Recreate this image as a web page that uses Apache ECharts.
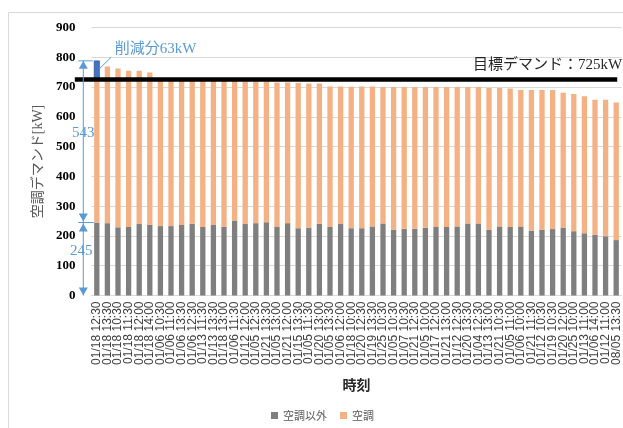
<!DOCTYPE html>
<html>
<head>
<meta charset="utf-8">
<script src="https://cdn.jsdelivr.net/npm/echarts@6/dist/echarts.min.js"></script>
<style>
  html, body { margin: 0; padding: 0; background: #fff; }
  #chart { width: 623px; height: 428px; }
</style>
</head>
<body>
<div id="chart"></div>
<script>
// Sampled time slots, sorted by total demand (highest first)
const timeLabels = [
  '01/18 12:30','01/18 13:30','01/18 10:30','01/18 11:30','01/18 12:00','01/18 14:00',
  '01/06 10:30','01/06 11:00','01/06 13:30','01/06 12:30','01/13 11:30','01/13 13:30',
  '01/18 13:00','01/06 11:30','01/12 12:00','01/05 12:30','01/21 13:30','01/05 13:00',
  '01/21 12:00','01/15 13:30','01/05 11:30','01/20 13:00','01/05 13:30','01/06 12:00',
  '01/18 10:00','01/20 12:30','01/19 13:30','01/25 10:30','01/05 10:30','01/07 10:30',
  '01/21 12:30','01/05 10:00','01/17 12:00','01/21 13:00','01/12 12:30','01/20 13:30',
  '01/04 12:30','01/13 13:00','01/21 10:30','01/05 11:00','01/06 10:00','01/21 11:30',
  '01/12 10:30','01/19 10:30','01/20 12:00','01/25 10:00','01/13 11:00','01/06 14:00',
  '01/12 11:00','08/05 13:30'
];

// Demand other than air conditioning [kW]
const nonAcDemand = [
  245, 243, 229, 230, 240, 238, 233, 233, 237, 241, 230, 237,
  231, 252, 240, 243, 246, 230, 243, 226, 228, 241, 230, 240,
  226, 226, 232, 242, 221, 224, 224, 228, 230, 230, 232, 242,
  242, 221, 232, 230, 232, 218, 221, 223, 228, 216, 209, 204,
  199, 186
];

// Air-conditioning demand [kW]
const acDemand = [
  543, 526, 533, 525, 515, 511, 497, 496, 491, 487, 497, 490,
  495, 474, 479, 476, 473, 485, 472, 488, 484, 471, 472, 462,
  475, 476, 470, 458, 479, 476, 476, 472, 470, 470, 468, 458,
  458, 476, 465, 465, 458, 472, 469, 467, 453, 461, 460, 453,
  458, 462
];

// Target demand [kW]
const targetDemand = 725;

const yTicks = { min: 0, max: 900, interval: 100 };

const COL_GRAY = '#7f7f7f';
const COL_ORANGE = '#f4b183';
const COL_BLUE_TEXT = '#5b9bd5';
const COL_BLUE_BAR = '#4472c4';
const SERIF = '"Liberation Serif", "Noto Sans CJK JP", serif';

const peakTotal = nonAcDemand[0] + acDemand[0];
const reduction = peakTotal - targetDemand;

// Annotations: target line, reduction block on the peak bar and dimension arrows
function renderNotes(params, api) {
  const n = timeLabels.length;
  const x0 = api.coord([0, 0])[0];
  const xN = api.coord([n - 1, 0])[0];
  const band = api.size([1, 0])[0];
  const bw = band * 0.5;
  const yBase = api.coord([0, 0])[1];
  const yMid = api.coord([0, nonAcDemand[0]])[1];
  const yTop = api.coord([0, peakTotal])[1];
  const yTarget = api.coord([0, targetDemand])[1];
  const xA = x0 - 13.5;
  const blue = COL_BLUE_TEXT;
  const thin = { stroke: blue, lineWidth: 1 };
  const head = 4.5, headH = 8;

  const children = [
    // portion of the peak above the target
    { type: 'rect', shape: { x: x0 - bw / 2, y: yTop, width: bw, height: yTarget - yTop },
      style: { fill: COL_BLUE_BAR, stroke: '#2f5597', lineWidth: 0.6 } },
    // target demand line
    { type: 'line', shape: { x1: x0 - 22, y1: yTarget, x2: xN + 1, y2: yTarget },
      style: { stroke: '#000', lineWidth: 4.5 } },
    { type: 'text', style: { text: '目標デマンド：' + targetDemand + 'kW', x: xN + 6, y: yTarget - 15,
      align: 'right', verticalAlign: 'middle', fontSize: 15, fontFamily: SERIF, fill: '#262626' } },
    // reduction callout
    { type: 'line', shape: { x1: x0 + 2.6, y1: yTop + 8, x2: x0 + 14.3, y2: yTop - 3.6 }, style: thin },
    { type: 'text', style: { text: '削減分' + reduction + 'kW', x: x0 + 18, y: yTop - 12,
      align: 'left', verticalAlign: 'middle', fontSize: 15, fontFamily: SERIF, fill: blue } },
    // extension ticks
    { type: 'line', shape: { x1: xA - 5, y1: yTop, x2: x0 - 4, y2: yTop }, style: thin },
    { type: 'line', shape: { x1: xA - 5, y1: yMid, x2: x0 - 3, y2: yMid }, style: thin },
    // vertical dimension lines
    { type: 'line', shape: { x1: xA, y1: yTop, x2: xA, y2: yMid }, style: thin },
    { type: 'line', shape: { x1: xA, y1: yMid, x2: xA, y2: yBase }, style: thin },
    // arrow heads
    { type: 'polygon', shape: { points: [[xA, yTop], [xA - head, yTop + headH], [xA + head, yTop + headH]] }, style: { fill: blue } },
    { type: 'polygon', shape: { points: [[xA, yMid - 1], [xA - head, yMid - 1 - headH], [xA + head, yMid - 1 - headH]] }, style: { fill: blue } },
    { type: 'polygon', shape: { points: [[xA, yMid + 1], [xA - head, yMid + 1 + headH], [xA + head, yMid + 1 + headH]] }, style: { fill: blue } },
    { type: 'polygon', shape: { points: [[xA, yBase], [xA - head, yBase - headH], [xA + head, yBase - headH]] }, style: { fill: blue } },
    // dimension values
    { type: 'text', style: { text: String(acDemand[0]), x: xA, y: (yTop + yMid) / 2 - 9,
      align: 'center', verticalAlign: 'middle', fontSize: 15, fontFamily: SERIF, fill: blue } },
    { type: 'text', style: { text: String(nonAcDemand[0]), x: xA - 2, y: (yMid + yBase) / 2 - 8,
      align: 'center', verticalAlign: 'middle', fontSize: 15, fontFamily: SERIF, fill: blue } }
  ];
  return { type: 'group', children: children };
}

const chart = echarts.init(document.getElementById('chart'), null, { renderer: 'canvas' });

chart.setOption({
  animation: false,
  backgroundColor: '#fff',
  graphic: [{
    type: 'rect', silent: true, z: -10,
    shape: { x: 8.5, y: 12.5, width: 700, height: 500 },
    style: { fill: 'none', stroke: '#d9d9d9', lineWidth: 1 }
  }],
  grid: { left: 91.5, right: 1.5, top: 27.5, bottom: 132.5 },
  legend: {
    data: ['空調以外', '空調'],
    left: 266, top: 405,
    icon: 'rect', itemWidth: 7, itemHeight: 7, itemGap: 13,
    textStyle: { fontSize: 11, color: '#595959', fontFamily: '"Noto Sans CJK JP", sans-serif' }
  },
  xAxis: {
    type: 'category',
    data: timeLabels,
    name: '時刻',
    nameLocation: 'middle',
    nameGap: 82,
    nameTextStyle: { fontSize: 14, fontWeight: 'bold', color: '#262626', fontFamily: '"Noto Sans CJK JP", sans-serif' },
    axisLine: { lineStyle: { color: '#d9d9d9' } },
    axisTick: { show: false },
    axisLabel: {
      interval: 0, rotate: 90, margin: 6,
      fontSize: 12, color: '#404040', fontFamily: '"Liberation Sans", Arial, sans-serif'
    }
  },
  yAxis: {
    type: 'value',
    min: yTicks.min, max: yTicks.max, interval: yTicks.interval,
    name: '空調デマンド[kW]',
    nameLocation: 'middle',
    nameGap: 44,
    nameTextStyle: { fontSize: 14, color: '#595959', fontFamily: SERIF },
    axisLine: { show: false },
    axisTick: { show: false },
    splitLine: { lineStyle: { color: '#d9d9d9' } },
    axisLabel: { margin: 16, fontSize: 13, fontWeight: 'bold', color: '#000', fontFamily: SERIF }
  },
  series: [
    {
      name: '空調以外', type: 'bar', stack: 'demand', barWidth: '50%',
      itemStyle: { color: COL_GRAY }, data: nonAcDemand
    },
    {
      name: '空調', type: 'bar', stack: 'demand', barWidth: '50%',
      itemStyle: { color: COL_ORANGE }, data: acDemand
    },
    {
      name: 'notes', type: 'custom', z: 5, silent: true,
      renderItem: renderNotes, data: [[0, targetDemand]]
    }
  ]
});
</script>
</body>
</html>
